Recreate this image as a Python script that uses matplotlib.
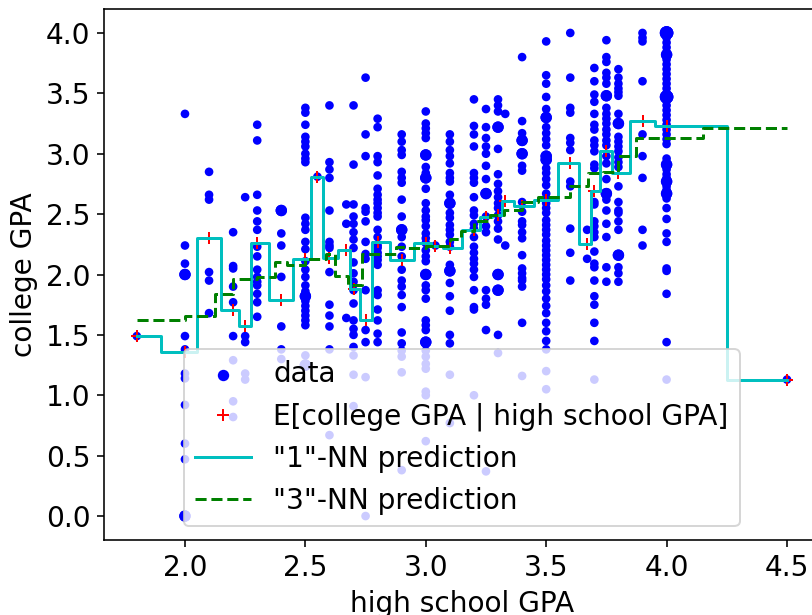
import numpy as np
import matplotlib
matplotlib.use('Agg')
import matplotlib.pyplot as plt

# high school GPA values that occur in the data
hs_gpa = [1.8, 2.0, 2.1, 2.2, 2.25, 2.3, 2.4, 2.5, 2.55, 2.6, 2.67, 2.7, 2.75, 2.8,
          2.9, 3.0, 3.04, 3.1, 3.2, 3.25, 3.3, 3.33, 3.4, 3.5, 3.6, 3.67, 3.7, 3.75,
          3.8, 3.9, 4.0, 4.5]

# college GPA of the students, one list per high school GPA
college_gpa = [
    [1.49],
    [3.33, 2.24, 2.09, 2.0, 2.0, 1.49, 1.38, 1.18, 1.14, 0.92, 0.60, 0.47, 0.0, 0.0],
    [2.85, 2.66, 2.62, 2.02, 1.95, 1.68],
    [2.35, 2.07, 2.05, 1.90, 1.77, 1.49, 1.29, 0.95, 0.82],
    [2.64, 1.49, 1.44, 1.18, 1.13],
    [3.24, 3.11, 2.66, 2.53, 2.44, 2.37, 2.23, 2.15, 2.04, 1.98, 1.94, 1.91, 1.84, 1.77, 1.65],
    [2.53, 2.53, 2.34, 2.24, 1.98, 1.57, 1.38, 1.30],
    [3.38, 3.34, 3.24, 3.14, 3.10, 3.06, 3.00, 2.96, 2.93, 2.47, 2.42, 2.37, 2.27, 2.21,
     2.11, 2.04, 1.98, 1.91, 1.86, 1.82, 1.82, 1.78, 1.74, 1.70, 1.66, 1.62, 1.58, 1.33,
     1.25, 1.25],
    [2.81],
    [3.40, 2.93, 2.87, 2.80, 2.53, 2.27, 2.24, 2.22, 2.02, 1.75, 1.66, 1.57, 1.38, 0.67],
    [2.58, 2.42, 1.64],
    [3.40, 2.91, 2.58, 2.48, 2.42, 2.35, 2.29, 2.22, 2.10, 2.01, 1.94, 1.87, 1.76, 1.62,
     1.55, 1.50, 1.40, 1.33, 1.17, 0.91],
    [3.63, 3.16, 2.98, 2.55, 2.52, 2.44, 2.27, 2.17, 2.13, 1.87, 1.54, 1.44, 1.15, 0.0],
    [3.29, 3.22, 2.98, 2.93, 2.82, 2.71, 2.66, 2.62, 2.59, 2.55, 2.51, 2.48, 2.37, 2.31,
     2.24, 2.22, 2.18, 2.15, 2.12, 2.08, 1.87, 1.83, 1.71, 1.62, 1.51, 1.44],
    [3.16, 3.10, 3.03, 2.99, 2.85, 2.80, 2.76, 2.62, 2.48, 2.37, 2.37, 2.31, 2.23, 2.15,
     2.04, 1.95, 1.90, 1.83, 1.73, 1.52, 1.43, 1.37, 1.32, 1.19, 0.38],
    [3.35, 3.25, 3.21, 3.17, 3.13, 2.99, 2.99, 2.89, 2.84, 2.80, 2.80, 2.71, 2.59, 2.53,
     2.48, 2.45, 2.40, 2.34, 2.30, 2.26, 2.20, 2.15, 2.11, 2.01, 2.0, 2.0, 1.91, 1.87,
     1.80, 1.62, 1.58, 1.54, 1.44, 1.44, 1.37, 1.32, 1.26, 1.22, 1.03, 1.00, 0.62],
    [2.24],
    [3.16, 3.10, 3.03, 2.98, 2.92, 2.84, 2.80, 2.77, 2.66, 2.59, 2.59, 2.51, 2.47, 2.41,
     2.37, 2.33, 2.27, 2.23, 2.08, 2.03, 2.03, 1.93, 1.82, 1.70, 1.50, 1.43, 1.17, 0.77],
    [3.45, 3.23, 3.16, 3.06, 2.84, 2.80, 2.76, 2.64, 2.53, 2.49, 2.42, 2.38, 2.31, 2.23,
     2.18, 2.13, 2.09, 2.04, 1.98, 1.87, 1.73, 1.71, 1.00],
    [3.37, 3.22, 3.13, 3.06, 3.00, 2.90, 2.79, 2.67, 2.67, 2.48, 2.40, 2.35, 1.87, 1.80,
     1.75, 1.54, 0.37],
    [3.45, 3.40, 3.35, 3.22, 3.22, 3.04, 2.83, 2.75, 2.69, 2.64, 2.59, 2.55, 2.49, 2.44,
     2.38, 2.29, 2.0, 2.0, 1.87, 1.87, 1.50, 1.35],
    [3.33, 2.24],
    [3.80, 3.27, 3.17, 3.11, 3.11, 3.00, 3.00, 2.90, 2.86, 2.60, 2.52, 2.44, 2.41, 2.35,
     2.30, 2.16, 2.05, 2.01, 1.97, 1.95, 1.90, 1.60, 1.16],
    [3.93, 3.65, 3.58, 3.47, 3.37, 3.30, 3.30, 3.22, 3.17, 3.12, 3.07, 2.98, 2.98, 2.95,
     2.95, 2.88, 2.84, 2.79, 2.74, 2.67, 2.63, 2.59, 2.55, 2.51, 2.45, 2.41, 2.37, 2.33,
     2.28, 2.24, 2.20, 2.16, 2.12, 2.08, 2.04, 2.00, 1.96, 1.91, 1.86, 1.80, 1.74, 1.68,
     1.60, 1.53, 1.45, 1.38, 1.20, 1.05],
    [4.00, 3.63, 3.38, 3.34, 3.13, 3.09, 3.03, 2.77, 2.73, 2.38, 2.18, 1.95],
    [2.37, 2.13],
    [3.71, 3.60, 3.49, 3.43, 3.33, 3.24, 3.20, 3.11, 3.07, 3.02, 2.91, 2.88, 2.60, 2.58,
     2.44, 2.40, 2.35, 2.31, 2.19, 2.09, 2.06, 1.95, 1.82, 1.75, 1.60, 1.45, 1.13],
    [3.94, 3.80, 3.76, 3.67, 3.63, 3.58, 3.48, 3.48, 3.38, 3.33, 3.29, 3.25, 3.20, 3.16,
     3.11, 3.07, 2.98, 2.92, 2.79, 2.67, 2.67, 2.62, 2.53, 2.42, 2.31, 2.06, 1.94],
    [3.70, 3.63, 3.58, 3.54, 3.51, 3.48, 3.33, 3.25, 3.25, 3.14, 3.10, 3.06, 3.02, 2.97,
     2.93, 2.89, 2.73, 2.60, 2.53, 2.51, 2.44, 2.37, 2.16, 2.16, 2.06, 2.01, 1.94],
    [4.00, 3.96, 3.93, 3.60, 3.16, 2.98, 2.80, 2.37, 2.24],
    [4.00, 4.00, 4.00, 3.96, 3.92, 3.88, 3.84, 3.82, 3.82, 3.78, 3.74, 3.70, 3.66, 3.62,
     3.58, 3.54, 3.50, 3.47, 3.47, 3.47, 3.44, 3.40, 3.36, 3.32, 3.28, 3.24, 3.20, 3.16,
     3.12, 3.08, 2.96, 2.91, 2.91, 2.87, 2.83, 2.80, 2.77, 2.77, 2.73, 2.70, 2.67, 2.67,
     2.63, 2.55, 2.46, 2.34, 2.27, 2.05, 2.03, 1.84, 1.44, 1.13],
    [1.13],
]

# E[college GPA | high school GPA], one value per hs_gpa
cond_mean = [1.49, 1.36, 2.30, 1.71, 1.57, 2.26, 1.79, 2.13, 2.81, 2.14, 2.20, 1.88,
             1.62, 2.27, 2.12, 2.26, 2.24, 2.22, 2.37, 2.48, 2.49, 2.61, 2.57, 2.62,
             2.92, 2.25, 2.69, 3.02, 2.84, 3.27, 3.23, 1.13]

# "3"-NN prediction for each window of three neighbouring hs_gpa values
knn3_pred = [1.62, 1.66, 1.84, 1.96, 1.98, 2.10, 2.08, 2.13, 2.17, 1.99, 1.91, 2.17,
             2.17, 2.23, 2.22, 2.24, 2.29, 2.36, 2.44, 2.49, 2.53, 2.60, 2.645, 2.645,
             2.73, 2.84, 2.85, 2.98, 3.13, 3.21]

# --- points, with marker size growing with the number of identical students ---
x = np.repeat(hs_gpa, [len(c) for c in college_gpa])
y = np.concatenate([np.array(c, dtype=float) for c in college_gpa])
pairs, inv, counts = np.unique(np.column_stack([x, y]), axis=0,
                               return_inverse=True, return_counts=True)
sizes = 11 * counts[inv.ravel()]

hs = np.array(hs_gpa)
# 1-NN: switches half way between neighbouring hs GPA values
edges1 = np.concatenate([[hs[0]], (hs[:-1] + hs[1:]) / 2, [hs[-1]]])
vals1 = np.append(cond_mean, cond_mean[-1])
# 3-NN: switches half way between x_i and x_(i+3)
edges3 = np.concatenate([[hs[0]], (hs[:-3] + hs[3:]) / 2, [hs[-1]]])
vals3 = np.append(knn3_pred, knn3_pred[-1])

plt.rcParams['font.size'] = 14
fig = plt.figure(figsize=(812 / 144, 615 / 144), dpi=144)
ax = fig.add_axes([104.3 / 812, 74.8 / 615, 715.2 / 812, 531.4 / 615])

ax.scatter(x, y, s=sizes, c='b', label='data')
ax.plot(hs, cond_mean, 'r+', label='E[college GPA | high school GPA]')
ax.step(edges1, vals1, where='post', color='c', label='"1"-NN prediction')
ax.step(edges3, vals3, where='post', color='g', linestyle='--', label='"3"-NN prediction')

ax.set_xlabel('high school GPA')
ax.set_ylabel('college GPA')
ax.legend(loc='lower center')

fig.savefig('out.png', dpi=144)
